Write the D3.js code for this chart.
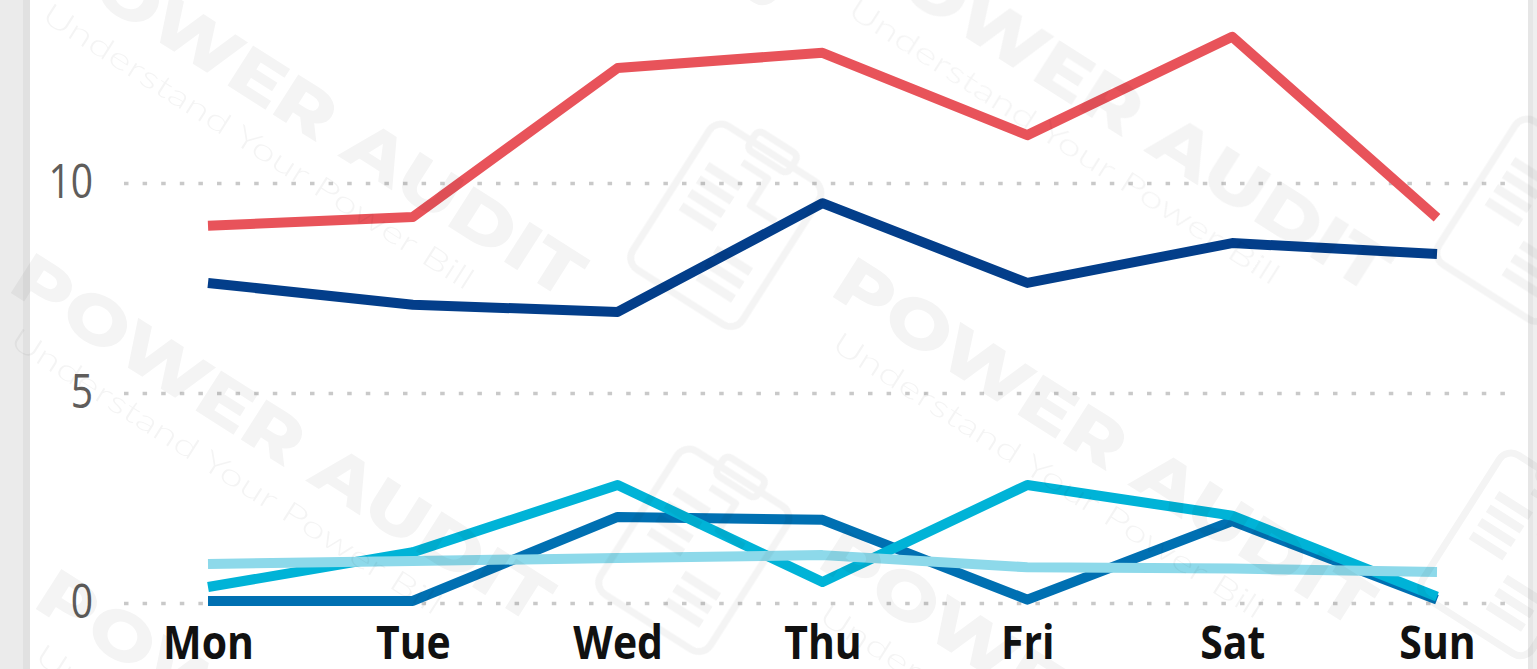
<!DOCTYPE html>
<html>
<head>
<meta charset="utf-8">
<script src="https://cdn.jsdelivr.net/npm/d3@7/dist/d3.min.js"></script>
<style>
  html, body { margin: 0; padding: 0; background: #ffffff; overflow: hidden; }
  svg { display: block; }
</style>
</head>
<body>
<svg id="chart" width="1537" height="669"></svg>
<script>
// ---------------- data ----------------
const days = ["Mon", "Tue", "Wed", "Thu", "Fri", "Sat", "Sun"];
const yTicks = [0, 5, 10];

const seriesRed      = [8.98, 9.19, 12.74, 13.10, 11.14, 13.48, 9.17];
const seriesNavy     = [7.62, 7.10, 6.93, 9.52, 7.62, 8.57, 8.31];
const seriesBlue     = [0.05, 0.05, 2.05, 1.98, 0.08, 1.95, 0.08];
const seriesCyan     = [0.38, 1.21, 2.81, 0.50, 2.81, 2.08, 0.15];
const seriesLightCyan= [0.93, 1.00, 1.07, 1.14, 0.85, 0.82, 0.74];

const seriesList = [
  { name: "Red",       values: seriesRed,       color: "#E8535A" },
  { name: "Navy",      values: seriesNavy,      color: "#033E8A" },
  { name: "Blue",      values: seriesBlue,      color: "#0070B2" },
  { name: "Cyan",      values: seriesCyan,      color: "#00B3D7" },
  { name: "LightCyan", values: seriesLightCyan, color: "#8DD9EA" }
];

const watermarkTitle = "POWER AUDIT";
const watermarkSub = "Understand Your Power Bill";
const watermarkAnchors = [[38, -35], [844, -40], [6, 290], [828, 294], [31, 606], [815, 566], [70, -360], [876, -365]];

// ---------------- layout ----------------
const W = 1537, H = 669;
const svg = d3.select("#chart");

const x = d3.scalePoint().domain(days).range([208, 1437]);
const y = d3.scaleLinear().domain([0, 10]).range([603, 183]);

// side panels
svg.append("rect").attr("x", 0).attr("y", 0).attr("width", 23).attr("height", H).attr("fill", "#ebebeb");
svg.append("rect").attr("x", 23).attr("y", 0).attr("width", 7).attr("height", H).attr("fill", "#e1e1e1");
svg.append("rect").attr("x", 1528).attr("y", 0).attr("width", 5).attr("height", H).attr("fill", "#e6e6e6");
svg.append("rect").attr("x", 1533).attr("y", 0).attr("width", 4).attr("height", H).attr("fill", "#efefef");

// gridlines
const gridLeft = 124, gridRight = 1512;
const grid = svg.append("g")
  .attr("transform", `translate(${gridLeft},0)`)
  .call(d3.axisLeft(y).tickValues(yTicks).tickSize(-(gridRight - gridLeft)).tickFormat(""));
grid.select(".domain").remove();
grid.selectAll(".tick line")
  .attr("stroke", "#c9c9c9")
  .attr("stroke-width", 3.5)
  .attr("stroke-dasharray", "4.5 14.1");

// y axis labels
const yAxis = svg.append("g")
  .attr("transform", "translate(93,0)")
  .call(d3.axisLeft(y).tickValues(yTicks).tickSize(0).tickPadding(0).tickFormat(d3.format("d")));
yAxis.select(".domain").remove();
yAxis.selectAll(".tick text")
  .attr("x", 0)
  .attr("dy", "0.33em")
  .attr("text-anchor", "end")
  .attr("transform", "translate(0,-1) scale(0.83,1)")
  .style("font-family", "'Segoe UI', 'Open Sans', 'Noto Sans', sans-serif")
  .style("font-size", "47px")
  .attr("fill", "#5f5d5b");

// x axis labels
const xAxis = svg.append("g")
  .attr("transform", "translate(0,659)")
  .call(d3.axisBottom(x).tickSize(0).tickPadding(0));
xAxis.select(".domain").remove();
xAxis.selectAll(".tick text")
  .attr("y", 0)
  .attr("dy", 0)
  .attr("text-anchor", "middle")
  .attr("transform", "scale(0.89,1)")
  .style("font-family", "'Segoe UI', 'Open Sans', 'Noto Sans', sans-serif")
  .style("font-size", "46px")
  .style("font-weight", "700")
  .attr("fill", "#111111");

// lines
const line = d3.line()
  .x((d, i) => x(days[i]))
  .y(d => y(d));

svg.append("g").selectAll("path")
  .data(seriesList)
  .join("path")
  .attr("d", s => line(s.values))
  .attr("fill", "none")
  .attr("stroke", s => s.color)
  .attr("stroke-width", 10)
  .attr("stroke-linejoin", "round")
  .attr("stroke-linecap", "butt");

// watermark overlay
const angle = 32.5;
const wm = svg.append("g").attr("opacity", 0.045).attr("pointer-events", "none");
watermarkAnchors.forEach(([ax, ay]) => {
  const g = wm.append("g").attr("transform", `translate(${ax},${ay}) rotate(${angle})`);
  g.append("text")
    .attr("x", 0).attr("y", 0)
    .attr("textLength", 625)
    .attr("lengthAdjust", "spacingAndGlyphs")
    .style("font-family", "Montserrat, Inter, 'Open Sans', sans-serif")
    .style("font-weight", "800")
    .style("font-size", "68px")
    .attr("fill", "#000")
    .text(watermarkTitle);
  g.append("text")
    .attr("x", 31).attr("y", 45)
    .attr("textLength", 505)
    .attr("lengthAdjust", "spacingAndGlyphs")
    .style("font-family", "Lato, Inter, 'Open Sans', sans-serif")
    .style("font-weight", "300")
    .style("font-size", "30px")
    .attr("fill", "#000")
    .text(watermarkSub);
  // clipboard icon
  const ic = g.append("g").attr("transform", "translate(720,-150)")
    .attr("fill", "none").attr("stroke", "#000").attr("stroke-width", 7)
    .attr("stroke-linejoin", "round");
  ic.append("rect").attr("x", -65).attr("y", -85).attr("width", 130).attr("height", 170).attr("rx", 14);
  ic.append("rect").attr("x", -24).attr("y", -98).attr("width", 48).attr("height", 22).attr("rx", 6);
  ic.append("path").attr("d", "M-20,-62 L10,-62 L10,-30 L40,-30");
  const bars = ic.append("g").attr("stroke-width", 9).attr("stroke-linecap", "butt");
  [-40, -24, -8, 8].forEach(yy => bars.append("line").attr("x1", -48).attr("x2", -8).attr("y1", yy).attr("y2", yy));
  [26, 42, 58].forEach(yy => bars.append("line").attr("x1", 4).attr("x2", 46).attr("y1", yy).attr("y2", yy));
});
</script>
</body>
</html>
